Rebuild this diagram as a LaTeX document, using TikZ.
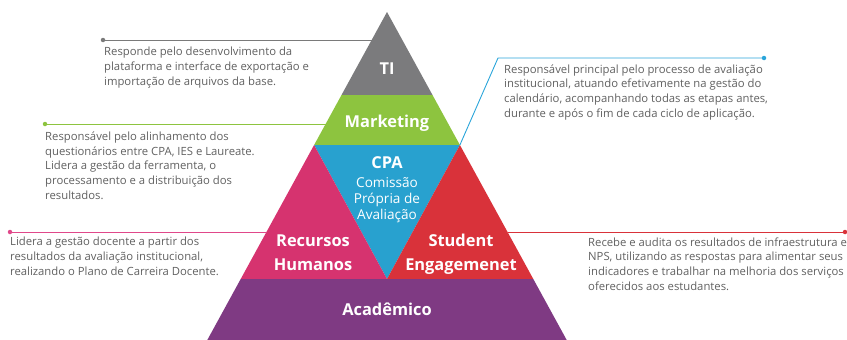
\documentclass[tikz,border=0pt]{standalone}
\usepackage{fontspec}
\setmainfont{Open Sans}
\definecolor{cTI}{HTML}{7B7B7D}
\definecolor{cMK}{HTML}{8DC43F}
\definecolor{cCPA}{HTML}{28A1CF}
\definecolor{cRH}{HTML}{D6336F}
\definecolor{cSE}{HTML}{D9323A}
\definecolor{cAC}{HTML}{7F3A83}
\definecolor{cTxt}{HTML}{606060}
\definecolor{cLTI}{HTML}{7A7A7A}
\definecolor{cLCPA}{HTML}{2AA5DA}
\definecolor{cLRH}{HTML}{E0488A}
\tikzset{
  lab/.style={text=white,font=\fontsize{16.4}{18}\selectfont\bfseries,inner sep=0pt,anchor=base},
  sub/.style={text=white,font=\fontsize{13.6}{15}\selectfont,inner sep=0pt,anchor=base},
  note/.style={text=cTxt,font=\fontsize{11.3}{14.8}\selectfont,inner sep=0pt,anchor=base west,align=left},
  conn/.style={line width=0.9pt},
  dotc/.style={circle,inner sep=0pt,minimum size=4.5pt}
}
\begin{document}
\begin{tikzpicture}[x=1pt,y=-1pt]
\useasboundingbox (0,0) rectangle (847,340);
% geometry
\coordinate (apex) at (387,12);
\coordinate (tiL) at (341.5,95);
\coordinate (tiR) at (432.5,95);
\coordinate (mkL) at (314.1,145);
\coordinate (mkR) at (459.9,145);
\coordinate (midL) at (240.7,279);
\coordinate (midC) at (387,279);
\coordinate (midR) at (533.3,279);
\coordinate (botL) at (207.3,340);
\coordinate (botR) at (566.7,340);
% bands
\fill[cTI] (apex) -- (tiR) -- (tiL) -- cycle;
\fill[cMK] (tiL) -- (tiR) -- (mkR) -- (mkL) -- cycle;
\fill[cCPA] (mkL) -- (mkR) -- (midC) -- cycle;
\fill[cRH] (mkL) -- (midC) -- (midL) -- cycle;
\fill[cSE] (mkR) -- (midR) -- (midC) -- cycle;
\fill[cAC] (midL) -- (midR) -- (botR) -- (botL) -- cycle;
% labels
\node[lab] (ti) at (387,74) {TI};
\node[lab] (mk) at (387,127) {Marketing};
\node[lab] (cpa) at (387,168) {CPA};
\node[sub] (cpa1) at (387,187) {Comissão};
\node[sub] (cpa2) at (387,203) {Própria de};
\node[sub] (cpa3) at (387,219) {Avaliação};
\node[lab] (rh1) at (313,246) {Recursos};
\node[lab] (rh2) at (313,270) {Humanos};
\node[lab] (se1) at (461,246) {Student};
\node[lab] (se2) at (461,270) {Engagemenet};
\node[lab] (ac) at (387,315) {Acadêmico};
% connectors
\node[dotc,fill=cLTI] (dTI) at (103,40) {};
\coordinate (eTI) at (371.7,40);
\draw[conn,cLTI] (dTI.center) -- (eTI);
\node[dotc,fill=cMK] (dMK) at (45,124) {};
\coordinate (eMK) at (325.6,124);
\draw[conn,cMK] (dMK.center) -- (eMK);
\node[dotc,fill=cLCPA] (dCPA) at (764,58) {};
\coordinate (kCPA) at (498,58);
\draw[conn,cLCPA] (mkR) -- (kCPA) -- (dCPA.center);
\node[dotc,fill=cLRH] (dRH) at (10,232) {};
\coordinate (eRH) at (266.4,232);
\draw[conn,cLRH] (dRH.center) -- (eRH);
\node[dotc,fill=cSE] (dSE) at (845,232) {};
\coordinate (eSE) at (507.6,232);
\draw[conn,cSE] (eSE) -- (dSE.center);
% notes (base anchor = baseline of last line)
\node[note] (nTI) at (104,85) {Responde pelo desenvolvimento da\\plataforma e interface de exportação e\\importação de arquivos da base.};
\node[note] (nMK) at (45,199.5) {Responsável pelo alinhamento dos\\questionários entre CPA, IES e Laureate.\\Lidera a gestão da ferramenta, o\\processamento e a distribuição dos\\resultados.};
\node[note] (nCPA) at (504,117.5) {Responsável principal pelo processo de avaliação\\institucional, atuando efetivamente na gestão do\\calendário, acompanhando todas as etapas antes,\\durante e após o fim de cada ciclo de aplicação.};
\node[note] (nRH) at (10,275.5) {Lidera a gestão docente a partir dos\\resultados da avaliação institucional,\\realizando o Plano de Carreira Docente.};
\node[note] (nSE) at (588,290.5) {Recebe e audita os resultados de infraestrutura e\\NPS, utilizando as respostas para alimentar seus\\indicadores e trabalhar na melhoria dos serviços\\oferecidos aos estudantes.};
\end{tikzpicture}
\end{document}
